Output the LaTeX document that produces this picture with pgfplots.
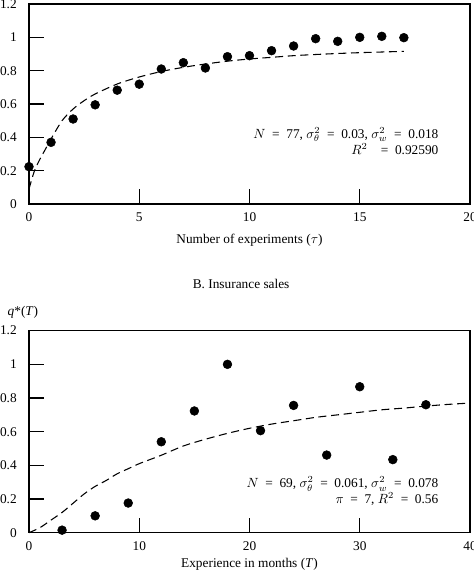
\documentclass[border=0pt]{standalone}
\usepackage{pgfplots}
\pgfplotsset{compat=1.18}
\usepackage{fontspec}
\setmainfont{Liberation Serif}
\newcommand{\eq}{\enspace=\enspace}

\begin{document}
\begin{tikzpicture}
\pgfplotsset{
  panel/.style={
    scale only axis, width=330.75pt,
    axis line style={line width=0.9pt},
    tick style={line width=0.9pt, black},
    tick align=inside, tick pos=left, major tick length=11pt,
    ymin=0, ymax=1.2, ytick={0,0.2,0.4,0.6,0.8,1,1.2},
    /pgf/number format/assume math mode=true,
    xticklabel style={anchor=center, yshift=-10pt},
    yticklabel style={anchor=east, inner sep=0pt, xshift=-9pt},
    clip=false,
  },
  dots/.style={only marks, mark=*, mark size=3.3pt, black},
  fit/.style={no marks, black, line width=0.8pt, dash pattern=on 6pt off 3.5pt},
}
\path[use as bounding box] (-21.75pt,-276pt) rectangle (333.75pt,153pt);

% A: experiments
\begin{axis}[panel, at={(0,0)}, anchor=south west, height=150pt,
  xmin=0, xmax=20, xtick={0,5,10,15,20},
  xlabel={Number of experiments ($\tau$)},
  xlabel style={at={(axis description cs:0.5,0)}, anchor=center, yshift=-27pt}]
\addplot[dots] coordinates {
  (0,0.224) (1,0.37) (2,0.51) (3,0.595) (4,0.683) (5,0.719) (6,0.81)
  (7,0.848) (8,0.816) (9,0.884) (10,0.89) (11,0.92) (12,0.948)
  (13,0.992) (14,0.976) (15,1.0) (16,1.006) (17,0.998)
};
\addplot[fit, smooth] coordinates {
  (0,0.09) (0.25,0.2) (0.5,0.27) (0.75,0.33) (1,0.39) (1.5,0.5) (2,0.57)
  (2.5,0.62) (3,0.66) (4,0.72) (5,0.762) (6,0.795) (7,0.82) (8,0.84)
  (9,0.857) (10,0.87) (11,0.88) (12,0.89) (13,0.897) (14,0.903)
  (15,0.908) (16,0.912) (17,0.916)
};
\node[anchor=east, align=right] at (axis cs:18.78,0.38)
  {$N$\eq 77, $\sigma^2_\theta$\eq 0.03, $\sigma^2_w$\eq 0.018\\$R^2$\enspace\eq 0.92590};
\end{axis}

% B: insurance sales
\begin{axis}[panel, at={(0,-246.5pt)}, anchor=south west, height=151.5pt,
  xmin=0, xmax=40, xtick={0,10,20,30,40},
  xlabel={Experience in months (\textit{T})},
  xlabel style={at={(axis description cs:0.5,0)}, anchor=center, yshift=-24pt}]
\addplot[dots] coordinates {
  (3,0.015) (6,0.1) (9,0.176) (12,0.54) (15,0.723) (18,1.0) (21,0.606)
  (24,0.756) (27,0.461) (30,0.867) (33,0.434) (36,0.76)
};
\addplot[fit, smooth] coordinates {
  (0,0) (1,0.03) (2,0.075) (3,0.12) (4,0.175) (5,0.23) (6,0.275) (7,0.31)
  (8,0.35) (9,0.38) (10,0.41) (12,0.46) (14,0.515) (16,0.555) (18,0.59)
  (20,0.62) (22,0.645) (24,0.665) (26,0.685) (28,0.7) (30,0.715)
  (32,0.73) (34,0.74) (36,0.752) (38,0.762) (40,0.77)
};
\node[anchor=east, align=right] at (axis cs:37.55,0.245)
  {$N$\eq 69, $\sigma^2_\theta$\eq 0.061, $\sigma^2_w$\eq 0.078\\$\pi$\eq 7, $R^2$\eq 0.56};
\node at (rel axis cs:0.481,1) [yshift=35pt] {B. Insurance sales};
\node at (rel axis cs:0,1) [anchor=west, xshift=-19.5pt, yshift=14pt]
  {\textit{q}*(\textit{T})};
\end{axis}
\end{tikzpicture}
\end{document}
